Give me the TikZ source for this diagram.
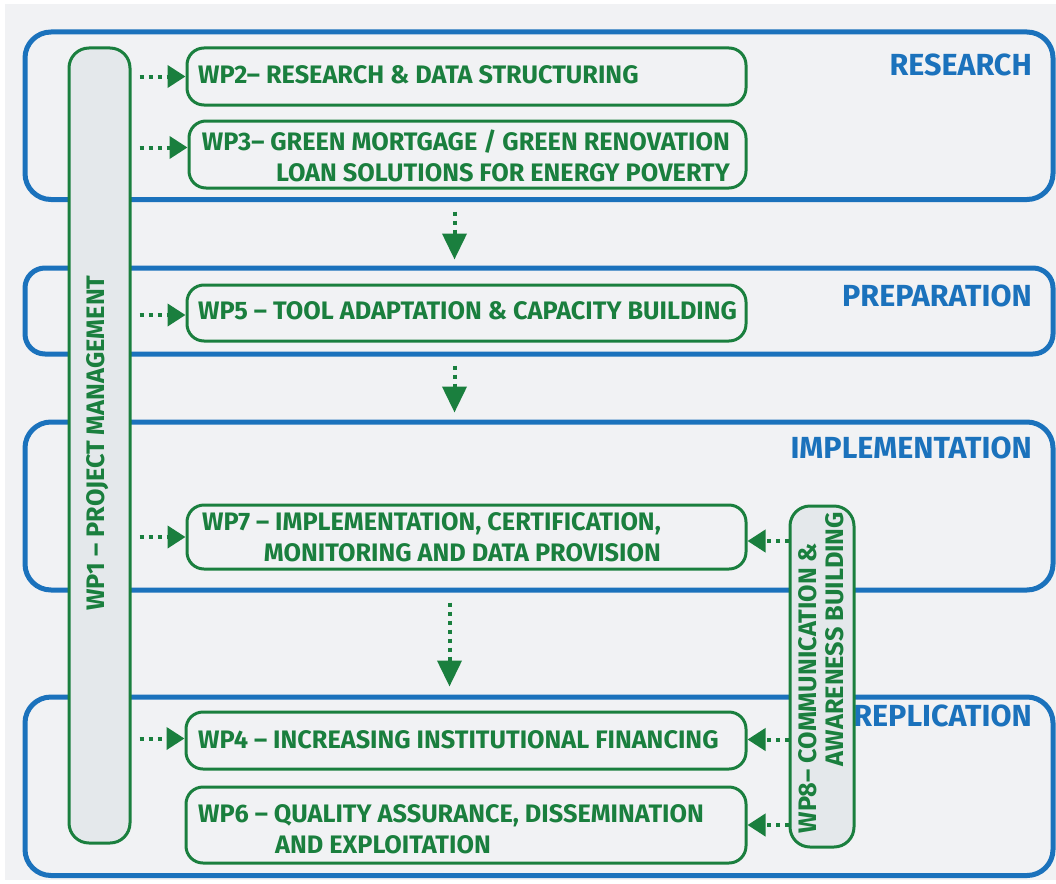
\documentclass[tikz,border=0pt]{standalone}
\usepackage{fontspec}
\setmainfont{Fira Sans}
\usetikzlibrary{arrows.meta,calc}
\definecolor{bg}{HTML}{F1F2F4}
\definecolor{pill}{HTML}{E4E8EB}
\definecolor{grn}{HTML}{1A7F3E}
\definecolor{blu}{HTML}{1B72BC}
\begin{document}
\begin{tikzpicture}[x=1pt,y=-1pt,
 stage/.style={draw=blu,line width=5pt,rounded corners=26pt,inner sep=0pt,anchor=north west},
 wpbox/.style={draw=grn,line width=3pt,rounded corners=17pt,inner sep=0pt,anchor=north west},
 pillar/.style={draw=grn,fill=pill,line width=3pt,rounded corners=20pt,inner sep=0pt,anchor=north west},
 wptext/.style={text=grn,font=\fontsize{25.3}{31}\selectfont\bfseries,inner sep=0pt},
 stagetext/.style={text=blu,font=\fontsize{30.5}{32}\selectfont\bfseries,inner sep=0pt,anchor=east},
 flow/.style={draw=grn,line width=4pt,dash pattern=on 4pt off 5pt,-{Triangle[length=18pt,width=22pt]}},
 flowv/.style={draw=grn,line width=4pt,dash pattern=on 4pt off 5pt,-{Triangle[length=26pt,width=24pt]}}
]
\useasboundingbox (0,0) rectangle (1056,883);
\fill[white] (0,0) rectangle (1056,883);
\fill[bg] (5,4) rectangle (1056,880);

% stages
\node[stage,minimum width=1028pt,minimum height=167.5pt] (research) at (22.5,29.5) {};
\node[stage,rounded corners=20pt,minimum width=1028pt,minimum height=86pt] (prep) at (22.5,265.5) {};
\node[stage,minimum width=1028pt,minimum height=168pt] (impl) at (22.5,419.5) {};
\node[stage,minimum width=1028pt,minimum height=178.5pt] (rep) at (22.5,694.5) {};

\node[stagetext] (researcht) at (1032,65) {RESEARCH};
\node[stagetext] (prept) at (1032,296) {PREPARATION};
\node[stagetext] (implt) at (1032,448) {IMPLEMENTATION};
\node[stagetext] (rept) at (1032,716) {REPLICATION};

% pillars
\node[pillar,minimum width=61pt,minimum height=795pt] (wp1) at (67.5,46.5) {};
\node[wptext,rotate=90] (wp1t) at (98,443) {WP1 – PROJECT MANAGEMENT};
\node[pillar,minimum width=64pt,minimum height=341pt] (wp8) at (788.5,504.5) {};
\node[wptext,rotate=90] (wp8a) at (808,688) {WP8– COMMUNICATION \&};
\node[wptext,rotate=90] (wp8b) at (835,639) {AWARENESS BUILDING};

% work package boxes
\node[wpbox,minimum width=559pt,minimum height=57pt] (wp2) at (185.5,46.5) {};
\node[wptext,anchor=west] (wp2t) at (198,75) {WP2– RESEARCH \& DATA STRUCTURING};
\node[wpbox,minimum width=557pt,minimum height=67pt] (wp3) at (187.5,119.5) {};
\node[wptext,anchor=east,align=right] (wp3t) at (730,155.5) {WP3– GREEN MORTGAGE / GREEN RENOVATION\\LOAN SOLUTIONS FOR ENERGY POVERTY};
\node[wpbox,minimum width=559pt,minimum height=56pt] (wp5) at (185.5,283.5) {};
\node[wptext,anchor=west] (wp5t) at (198,311) {WP5 – TOOL ADAPTATION \& CAPACITY BUILDING};
\node[wpbox,minimum width=559pt,minimum height=64pt] (wp7) at (185.5,503.5) {};
\node[wptext,anchor=east,align=right] (wp7t) at (661,537) {WP7 – IMPLEMENTATION, CERTIFICATION,\\MONITORING AND DATA PROVISION};
\node[wpbox,minimum width=560pt,minimum height=57pt] (wp4) at (184.5,710.5) {};
\node[wptext,anchor=west] (wp4t) at (198,740) {WP4 – INCREASING INSTITUTIONAL FINANCING};
\node[wpbox,minimum width=560pt,minimum height=76pt] (wp6) at (184.5,785.5) {};
\node[wptext,anchor=west,align=left] (wp6t) at (198,829) {WP6 – QUALITY ASSURANCE, DISSEMINATION\\\hspace*{77pt}AND EXPLOITATION};

% arrows from WP1
\draw[flow] ($(wp1.east |- wp2.west)+(8,0)$) -- (wp2.west);
\draw[flow] ($(wp1.east |- wp3.west)+(8,-7)$) -- ($(wp3.west)+(0,-7)$);
\draw[flow] ($(wp1.east |- wp5.west)+(8,2)$) -- ($(wp5.west)+(0,2)$);
\draw[flow] ($(wp1.east |- wp7.west)+(8,0)$) -- (wp7.west);
\draw[flow] ($(wp1.east |- wp4.west)+(8,-2)$) -- ($(wp4.west)+(0,-2)$);

% arrows from WP8
\draw[flow] ($(wp8.west |- wp7.east)+(0,4)$) -- ($(wp7.east)+(0,4)$);
\draw[flow] ($(wp8.west |- wp4.east)+(0,-1)$) -- ($(wp4.east)+(0,-1)$);
\draw[flow] (wp8.west |- wp6.east) -- (wp6.east);

% stage flow arrows
\draw[flowv] ([xshift=-84.5pt,yshift=-9.5pt]research.south) -- ([xshift=-84.5pt,yshift=6pt]prep.north);
\draw[flowv] ([xshift=-84.5pt,yshift=-9pt]prep.south) -- ([xshift=-84.5pt,yshift=7pt]impl.north);
\draw[flowv] ([xshift=-89.5pt,yshift=-10pt]impl.south) -- ([xshift=-89.5pt,yshift=8pt]rep.north);
\end{tikzpicture}
\end{document}
